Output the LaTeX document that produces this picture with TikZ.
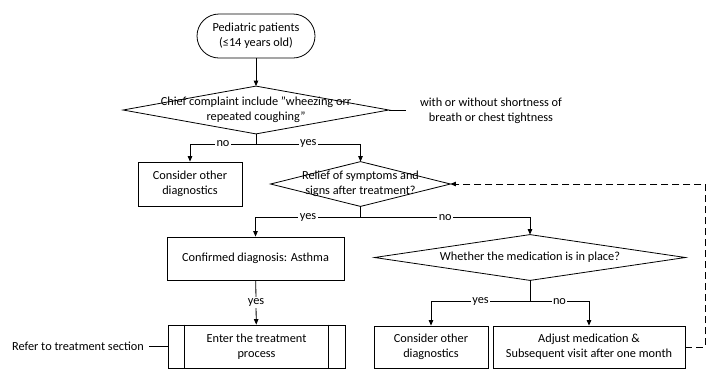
\documentclass[tikz,border=0pt]{standalone}
\usepackage{fontspec}
\setmainfont{Carlito}
\usetikzlibrary{positioning,arrows.meta,calc}

\begin{document}
\begin{tikzpicture}[x=1pt, y=-1pt, line width=0.8pt,
  font=\fontsize{12.3}{15}\selectfont,
  terminal/.style={draw, rounded corners=22pt, align=center, minimum width=118pt, minimum height=44pt},
  process/.style={draw, align=center, inner sep=2pt},
  decision/.style={align=center, inner sep=0pt},
  arrow/.style={-{Triangle[length=5.5pt, width=4.5pt]}},
  label/.style={fill=white, inner sep=1.5pt},
  note/.style={align=center},
]
\useasboundingbox (0,0) rectangle (707,376);

% === Nodes ===
\node[terminal] (start) at (256,36) {Pediatric patients\\(≤14 years old)};
\node[decision, minimum width=265pt, minimum height=47pt] (q1) at (256,110) {Chief complaint include "wheezing orr\\repeated coughing"};
\node[note] (sob) at (491,111) {with or without shortness of\\breath or chest tightness};
\node[process, minimum width=104pt, minimum height=44pt] (cons1) at (190,184) {Consider other\\diagnostics};
\node[decision, minimum width=179pt, minimum height=44pt] (q2) at (360.5,184) {Relief of symptoms and\\signs after treatment?};
\node[process, minimum width=177pt, minimum height=43pt] (asthma) at (255.5,258.5) {Confirmed diagnosis: Asthma};
\node[decision, minimum width=310pt, minimum height=45pt] (q3) at (530,257.5) {Whether the medication is in place?};
\node[process, minimum width=177pt, minimum height=43pt] (enter) at (256.5,346.5) {Enter the treatment\\process};
\node[note, inner xsep=5pt] (refer) at (78,346.5) {Refer to treatment section};
\node[process, minimum width=114pt, minimum height=42pt] (cons2) at (431,347) {Consider other\\diagnostics};
\node[process, minimum width=192pt, minimum height=42pt] (adjust) at (589,347) {Adjust medication \&\\Subsequent visit after one month};

% === Diamonds and predefined process ===
\foreach \d in {q1,q2,q3}
  \draw (\d.north) -- (\d.east) -- (\d.south) -- (\d.west) -- cycle;
\draw ([xshift=17pt]enter.north west) -- ([xshift=17pt]enter.south west);
\draw ([xshift=-17pt]enter.north east) -- ([xshift=-17pt]enter.south east);

% === Forks ===
\coordinate (f1) at ($(q1.south)+(0,10)$);
\coordinate (f2) at ($(q2.south)+(0,11)$);
\coordinate (f3) at ($(q3.south)+(0,21)$);
\coordinate (sobtip) at ($(q1.east)+(17,0)$);
\coordinate (loopR) at ($(adjust.east)+(20,0)$);

% === Connectors ===
\draw[arrow] (start) -- (q1);
\draw (q1.east) -- (sobtip);
\draw (q1.south) -- (f1);
\draw[arrow] (f1) -| node[label, pos=0.25] {no} (cons1);
\draw[arrow] (f1) -| node[label, pos=0.25] {yes} (q2);
\draw (q2.south) -- (f2);
\draw[arrow] (f2) -| node[label, pos=0.25] {yes} (asthma);
\draw[arrow] (f2) -| node[label, pos=0.25] {no} (q3);
\draw[arrow] (asthma) -- node[label] {yes} (enter);
\draw (q3.south) -- (f3);
\draw[arrow] (f3) -| node[label, pos=0.25] {yes} (cons2);
\draw[arrow] (f3) -| node[label, pos=0.25] {no} (adjust);
\draw (refer) -- (enter);
\draw[arrow, dash pattern=on 7pt off 4pt] (adjust.east) -- (loopR) |- (q2.east);

\end{tikzpicture}
\end{document}
